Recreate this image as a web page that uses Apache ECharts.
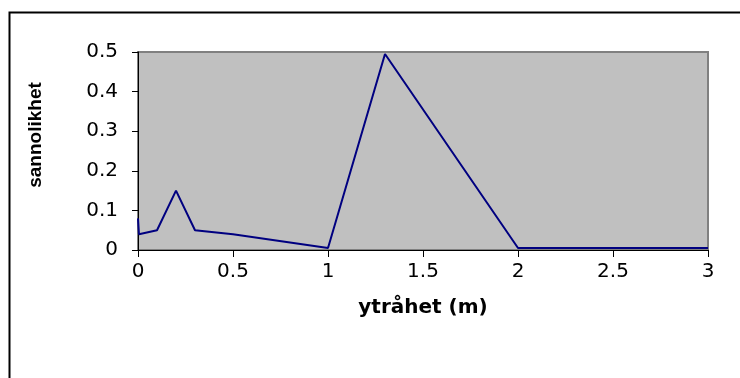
<!DOCTYPE html>
<html>
<head>
<meta charset="utf-8">
<style>
  html, body { margin: 0; padding: 0; background: #ffffff; }
  #chart { width: 740px; height: 378px; }
</style>
<script src="https://cdn.jsdelivr.net/npm/echarts@6/dist/echarts.min.js"></script>
</head>
<body>
<div id="chart"></div>
<script>
// Roughness (m) and probability values
const roughness = [0, 0.005, 0.1, 0.2, 0.3, 0.5, 1.0, 1.3, 2.0, 3.0];
const probability = [0.08, 0.04, 0.05, 0.15, 0.05, 0.04, 0.005, 0.495, 0.005, 0.005];

const xTitle = 'ytråhet (m)';
const yTitle = 'sannolikhet';

const points = roughness.map((x, i) => [x, probability[i]]);

const chart = echarts.init(document.getElementById('chart'), null, { renderer: 'canvas' });
const wideFont = '"DejaVu Sans", "Liberation Sans", sans-serif';
const narrowFont = '"Liberation Sans", Arial, sans-serif';

chart.setOption({
  animation: false,
  backgroundColor: '#ffffff',
  graphic: [{
    type: 'rect',
    left: 7, top: 10,
    shape: { width: 800, height: 420 },
    style: { fill: 'none', stroke: '#000000', lineWidth: 2 },
    silent: true
  }, {
    // vertical axis title
    type: 'text',
    x: 36, y: 135,
    rotation: Math.PI / 2,
    style: {
      text: yTitle,
      font: 'bold 19px ' + narrowFont,
      fill: '#000',
      align: 'center',
      verticalAlign: 'middle'
    },
    silent: true
  }],
  grid: {
    left: 138, top: 52, right: 32, bottom: 128,
    show: true,
    backgroundColor: '#c0c0c0',
    borderColor: '#808080',
    borderWidth: 2
  },
  xAxis: {
    type: 'value',
    min: 0, max: 3, interval: 0.5,
    name: xTitle,
    nameLocation: 'middle',
    nameGap: 48,
    nameTextStyle: { fontFamily: wideFont, fontSize: 20, fontWeight: 'bold', color: '#000' },
    axisLine: { show: true, onZero: false, lineStyle: { color: '#000', width: 1 } },
    axisTick: { show: true, length: 7, inside: false, lineStyle: { color: '#000' } },
    axisLabel: { fontFamily: wideFont, fontSize: 20, color: '#000', margin: 12 },
    splitLine: { show: false }
  },
  yAxis: {
    type: 'value',
    min: 0, max: 0.5, interval: 0.1,
    axisLine: { show: true, onZero: false, lineStyle: { color: '#000', width: 1 } },
    axisTick: { show: true, length: 6, inside: false, lineStyle: { color: '#000' } },
    axisLabel: { fontFamily: wideFont, fontSize: 20, color: '#000', margin: 20 },
    splitLine: { show: false }
  },
  series: [{
    type: 'line',
    data: points,
    showSymbol: false,
    symbol: 'none',
    lineStyle: { color: '#000080', width: 2 },
    clip: true
  }]
});
</script>
</body>
</html>
